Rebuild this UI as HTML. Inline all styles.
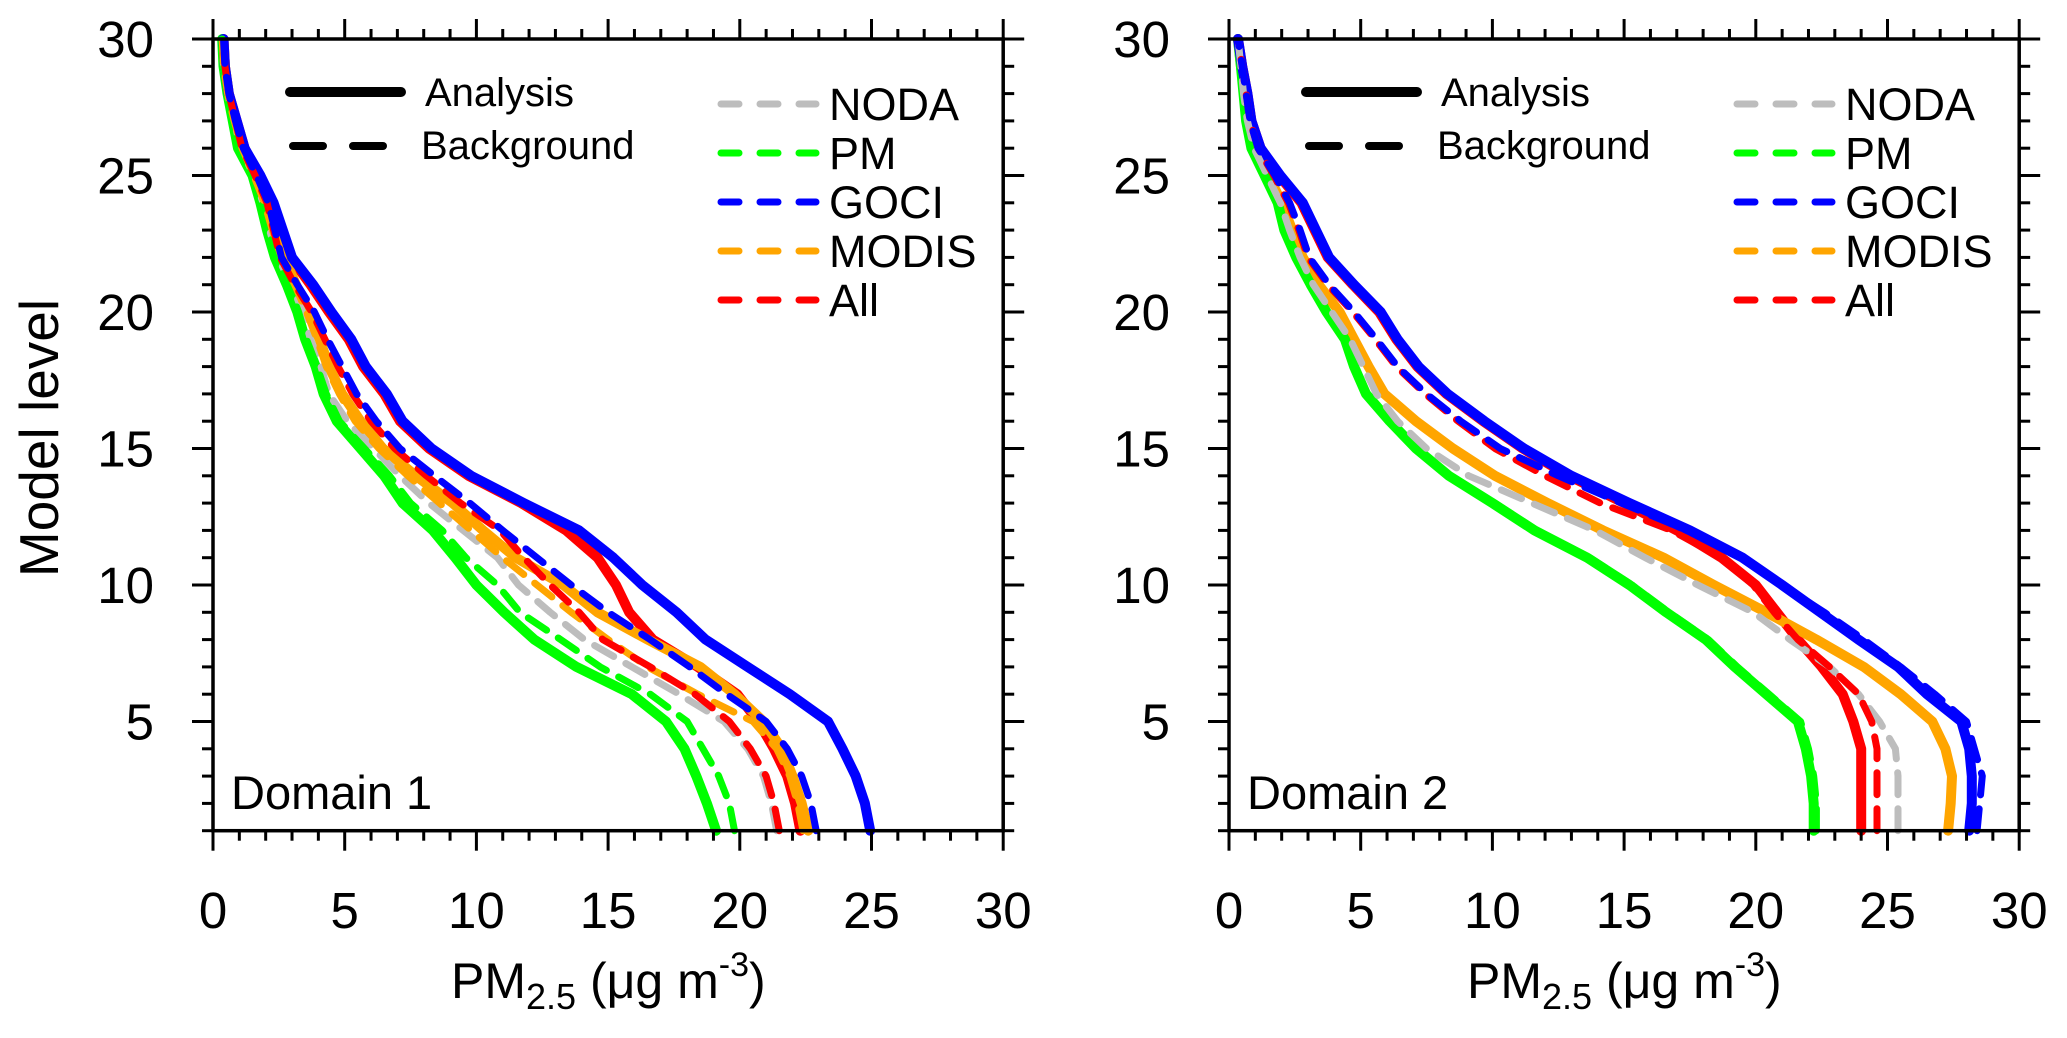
<!DOCTYPE html>
<html><head><meta charset="utf-8"><style>
html,body{margin:0;padding:0;background:#fff;}
svg{display:block;font-family:"Liberation Sans",Arial,sans-serif;}
</style></head><body>
<svg id="chart" width="2067" height="1038" viewBox="0 0 2067 1038" xmlns="http://www.w3.org/2000/svg">
<rect width="2067" height="1038" fill="#fff"/>
</svg>
<script>
const levels = [1,2,3,4,5,6,7,8,9,10,11,12,13,14,15,16,17,18,19,20,21,22,23,24,25,26,27,28,29,30];
const xTicks = [0,5,10,15,20,25,30];
const yTicks = [5,10,15,20,25,30];
// Domain 1
const gociA1 = [24.95,24.75,24.4,23.9,23.35,21.9,20.3,18.7,17.6,16.3,15.2,13.9,11.8,9.8,8.3,7.2,6.6,5.8,5.25,4.5,3.8,3.0,2.65,2.3,1.8,1.2,0.9,0.6,0.45,0.4];
const allA1 = [22.3,22.1,21.8,21.3,20.7,19.9,18.4,16.7,15.8,15.3,14.6,13.4,11.7,9.7,8.2,7.1,6.5,5.7,5.15,4.4,3.7,2.95,2.6,2.25,1.75,1.2,0.9,0.6,0.45,0.4];
const modisA1 = [22.6,22.35,22.0,21.6,20.9,19.8,18.5,16.5,14.6,13.3,11.5,10.25,9.1,7.7,6.45,5.6,4.9,4.4,4.05,3.6,3.15,2.7,2.3,2.0,1.6,1.15,0.85,0.6,0.45,0.4];
const pmA1 = [19.1,18.75,18.35,17.9,17.2,15.9,13.8,12.2,11.05,10.0,9.2,8.35,7.2,6.5,5.6,4.7,4.2,3.9,3.5,3.2,2.8,2.35,2.05,1.8,1.5,0.95,0.75,0.55,0.4,0.35];
const pmB1 = [19.8,19.6,19.2,18.6,18.0,16.6,14.7,13.2,11.65,10.8,9.6,8.7,7.5,6.7,5.75,4.8,4.3,3.95,3.55,3.25,2.85,2.4,2.1,1.85,1.5,1.0,0.75,0.55,0.4,0.35];
const nodaB1 = [21.4,21.2,20.9,20.3,19.4,17.7,15.9,14.1,12.8,11.6,10.8,9.5,8.2,7.1,6.1,5.1,4.4,4.1,3.7,3.4,3.0,2.45,2.15,1.9,1.55,1.05,0.8,0.55,0.4,0.35];
const gociB1 = [22.9,22.7,22.35,21.8,21.0,19.5,18.1,16.6,15.0,13.6,12.3,11.0,9.75,8.4,7.1,6.2,5.45,4.9,4.35,3.85,3.2,2.6,2.35,2.1,1.65,1.15,0.85,0.6,0.45,0.4];
const allB1 = [21.5,21.3,21.0,20.4,19.6,18.3,16.6,14.8,13.9,12.8,11.8,10.9,9.4,8.1,6.9,6.0,5.3,4.75,4.25,3.75,3.1,2.55,2.3,2.05,1.6,1.1,0.85,0.6,0.45,0.4];
const modisB1 = [22.4,22.2,21.9,21.4,20.5,18.4,16.5,15.0,13.6,12.3,11.0,9.8,8.6,7.4,6.3,5.4,4.8,4.3,3.95,3.55,3.1,2.6,2.25,1.95,1.55,1.1,0.8,0.55,0.4,0.35];
// Domain 2
const gociA2 = [28.1,28.2,28.2,28.1,27.8,26.5,25.4,23.9,22.45,21.0,19.5,17.5,15.2,13.0,11.2,9.7,8.3,7.2,6.4,5.76,4.75,3.8,3.3,2.8,1.95,1.2,0.85,0.7,0.5,0.34];
const gociB2 = [28.4,28.5,28.6,28.3,28.0,26.8,25.5,24.1,22.6,21.0,19.4,17.4,14.9,12.5,10.3,8.8,7.5,6.4,5.6,4.75,3.8,3.05,2.7,2.3,1.75,1.1,0.8,0.65,0.5,0.34];
const allA2 = [24.0,24.0,24.0,24.0,23.7,23.3,22.5,21.6,20.8,20.0,18.7,17.0,15.0,12.9,11.15,9.65,8.25,7.15,6.35,5.7,4.7,3.75,3.25,2.75,1.9,1.2,0.85,0.7,0.5,0.34];
const allB2 = [24.6,24.6,24.6,24.6,24.4,23.9,22.8,21.6,20.7,19.9,18.7,16.8,14.1,12.0,10.1,8.7,7.45,6.35,5.55,4.7,3.75,3.0,2.65,2.25,1.7,1.1,0.8,0.65,0.5,0.34];
const modisA2 = [27.3,27.4,27.45,27.2,26.7,25.5,24.1,22.3,20.4,18.4,16.5,14.2,12.1,10.1,8.5,7.1,5.9,5.3,4.75,4.2,3.4,2.8,2.4,2.0,1.5,1.0,0.75,0.6,0.45,0.34];
const modisB2 = [27.3,27.4,27.45,27.2,26.7,25.5,24.1,22.3,20.4,18.4,16.5,14.2,12.1,10.1,8.5,7.1,5.9,5.3,4.75,4.2,3.4,2.8,2.4,2.0,1.5,1.0,0.75,0.6,0.45,0.34];
const nodaB2 = [25.4,25.4,25.4,25.3,24.7,23.9,22.8,21.3,19.9,17.8,15.8,13.9,11.5,9.1,7.5,6.4,5.6,5.1,4.6,3.9,3.2,2.7,2.3,1.95,1.45,0.95,0.7,0.55,0.45,0.34];
const pmA2 = [22.2,22.2,22.1,21.9,21.6,20.4,19.2,18.1,16.6,15.2,13.6,11.6,10.0,8.35,7.1,6.1,5.2,4.75,4.4,3.7,3.1,2.55,2.1,1.85,1.35,0.85,0.65,0.55,0.45,0.34];
const pmB2 = [22.3,22.3,22.2,22.0,21.7,20.5,19.3,18.2,16.7,15.3,13.7,11.7,10.1,8.4,7.15,6.15,5.25,4.8,4.45,3.75,3.15,2.6,2.15,1.9,1.4,0.9,0.65,0.55,0.45,0.34];

const NS='http://www.w3.org/2000/svg';
const svg=document.getElementById('chart');
const COL={noda:'#bdbdbd',pm:'#00ff00',goci:'#0000ff',modis:'#ffa500',all:'#ff0000'};
const PX=26.34, PY=27.3, TOP=39;
function X(v,ox){return ox+v*PX;}
function Y(L){return TOP+(30-L)*PY;}
function mk(tag,attrs,parent){const e=document.createElementNS(NS,tag);for(const k in attrs)e.setAttribute(k,attrs[k]);(parent||svg).appendChild(e);return e;}

function panel(ox,label,series,idx){
  const g=mk('g',{});
  
  
  const x0=X(0,ox),x1=X(30,ox),y0=Y(30),y1=Y(1);
  series.forEach(s=>{
    const d=levels.map((L,i)=>(i?'L':'M')+X(s.v[i],ox).toFixed(1)+' '+Y(L).toFixed(1)).join(' ');
    const p=mk('path',{d:d,fill:'none',stroke:COL[s.c],'stroke-width':s.dash?7:10,'stroke-linejoin':'round','stroke-linecap':'round'},g);
    if(s.dash)p.setAttribute('stroke-dasharray','22 14');
    
    
  });
  const fr=mk('rect',{x:x0,y:y0,width:x1-x0,height:y1-y0,fill:'none',stroke:'#000','stroke-width':3.5},g);
  
  
  for(let v=0;v<=30;v++){
    const major=v%5===0, len=major?20:10, x=X(v,ox);
    mk('line',{x1:x,x2:x,y1:y1,y2:y1+len,stroke:'#000','stroke-width':3},g);
    mk('line',{x1:x,x2:x,y1:y0,y2:y0-len,stroke:'#000','stroke-width':3},g);
  }
  xTicks.forEach(v=>{
    const t=mk('text',{x:X(v,ox),y:928,'font-size':51,'text-anchor':'middle'},g);
    t.textContent=String(v);
    
    
  });
  for(let L=1;L<=30;L++){
    const major=L%5===0, len=major?21:11, y=Y(L);
    mk('line',{x1:x0,x2:x0-len,y1:y,y2:y,stroke:'#000','stroke-width':3},g);
    mk('line',{x1:x1,x2:x1+len,y1:y,y2:y,stroke:'#000','stroke-width':3},g);
  }
  yTicks.forEach(L=>{
    const t=mk('text',{x:x0-59,y:Y(L)+18,'font-size':51,'text-anchor':'end'},g);
    t.textContent=String(L);
    
    
  });
  const tt=mk('text',{x:ox+238,y:998,'font-size':50},g);
  tt.innerHTML='PM<tspan font-size="36" dy="11">2.5</tspan><tspan dy="-11"> (μg m</tspan><tspan font-size="34" dy="-22">-3</tspan><tspan dy="22">)</tspan>';
  
  
  const dl=mk('text',{x:ox+18,y:809,'font-size':47},g);
  dl.textContent=label;
  
  
  const la=mk('line',{x1:ox+77,x2:ox+188,y1:92,y2:92,stroke:'#000','stroke-width':10,'stroke-linecap':'round'},g);
  
  
  const ta=mk('text',{x:ox+212,y:106,'font-size':40},g); ta.textContent='Analysis';
  
  
  const lb=mk('line',{x1:ox+80,x2:ox+175,y1:146,y2:146,stroke:'#000','stroke-width':8,'stroke-linecap':'round','stroke-dasharray':'30 30'},g);
  
  
  const tb=mk('text',{x:ox+208,y:159,'font-size':40},g); tb.textContent='Background';
  
  
  const names=[['noda','NODA'],['pm','PM'],['goci','GOCI'],['modis','MODIS'],['all','All']];
  names.forEach((n,i)=>{
    const y=104+i*49;
    const l=mk('line',{x1:ox+508,x2:ox+603,y1:y,y2:y,stroke:COL[n[0]],'stroke-width':7,'stroke-linecap':'round','stroke-dasharray':'18 21'},g);
    
    
    const t=mk('text',{x:ox+616,y:y+16,'font-size':45},g); t.textContent=n[1];
    
    
  });
}
panel(213,'Domain 1',[
  {v:allA1,c:'all'},{v:modisA1,c:'modis'},{v:pmA1,c:'pm'},{v:gociA1,c:'goci'},
  {v:nodaB1,c:'noda',dash:1},{v:pmB1,c:'pm',dash:1},{v:modisB1,c:'modis',dash:1},{v:allB1,c:'all',dash:1},{v:gociB1,c:'goci',dash:1}
],1);
panel(1229,'Domain 2',[
  {v:modisB2,c:'modis',dash:1},{v:pmB2,c:'pm',dash:1},
  {v:allA2,c:'all'},{v:modisA2,c:'modis'},{v:pmA2,c:'pm'},{v:gociA2,c:'goci'},
  {v:nodaB2,c:'noda',dash:1},{v:allB2,c:'all',dash:1},{v:gociB2,c:'goci',dash:1}
],2);
const yt=mk('text',{x:0,y:0,'font-size':55,'text-anchor':'middle',transform:'translate(58,438) rotate(-90)'});
yt.textContent='Model level';


</script>
</body></html>
